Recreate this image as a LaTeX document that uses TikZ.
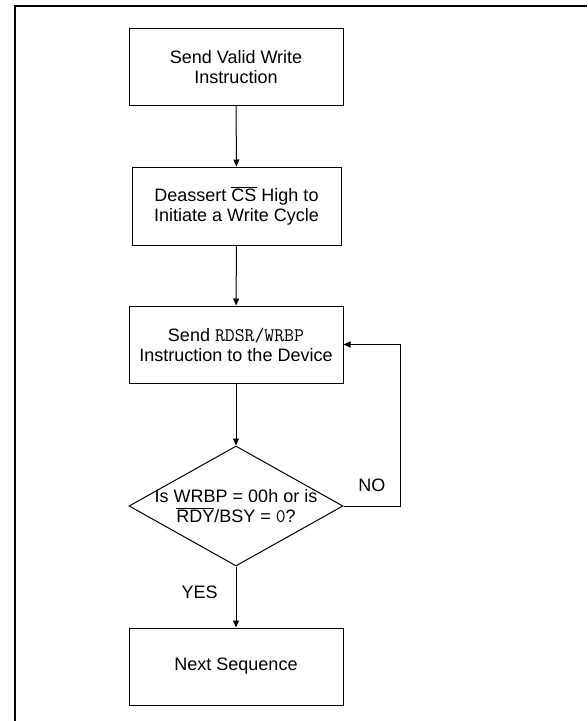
\documentclass[tikz,border=0pt]{standalone}
\usepackage{fontspec}
\setmainfont{Liberation Sans}
\usetikzlibrary{arrows.meta,shapes.geometric}

\newcommand{\notsig}[1]{$\overline{\mbox{#1}}$}
\newcommand{\cmd}[1]{{\fontsize{14.4}{15}\selectfont\ttfamily #1}}

\tikzset{
    stepbox/.style={draw, line width=0.75pt, minimum width=160.5pt, minimum height=57.75pt, align=center},
    decision/.style={draw, diamond, line width=0.75pt, minimum width=160.5pt, minimum height=90pt, inner sep=0pt},
    flow/.style={-{Triangle[length=5.25pt,width=4.5pt]}, line width=0.75pt}
}

\begin{document}
\begin{tikzpicture}[x=0.75pt, y=-0.75pt, font=\fontsize{13.5}{15}\selectfont]
        \useasboundingbox (0,0) rectangle (587,721);
        \draw[line width=1.5pt] (15,721) -- (15,6) -- (587,6);

        \node[stepbox] (SV) at (236,67) {Send Valid Write\\Instruction};
        \node[stepbox, minimum width=156.75pt, minimum height=58.5pt] (DC) at (236.5,206) {Deassert \notsig{CS} High to\\Initiate a Write Cycle};
        \node[stepbox] (SR) at (236,344.5) {Send \cmd{RDSR/WRBP}\\Instruction to the Device};
        \node[decision, label={[align=center]center:Is WRBP = 00h or is\\\notsig{RDY}/BSY = \cmd{0}?}] (IS) at (236,506) {};
        \node[stepbox] (NS) at (236,666.5) {Next Sequence};
        \coordinate (loop) at (400,506);

        \draw[flow] (SV) -- (DC);
        \draw[flow] (DC) -- (SR);
        \draw[flow] (SR) -- (IS);
        \draw[flow] (IS) -- node[left=10pt, pos=0.42] {YES} (NS);
        \draw[flow] (IS.east) -- node[above=7pt] {NO} (loop) |- (SR.east);
    \end{tikzpicture}
\end{document}
